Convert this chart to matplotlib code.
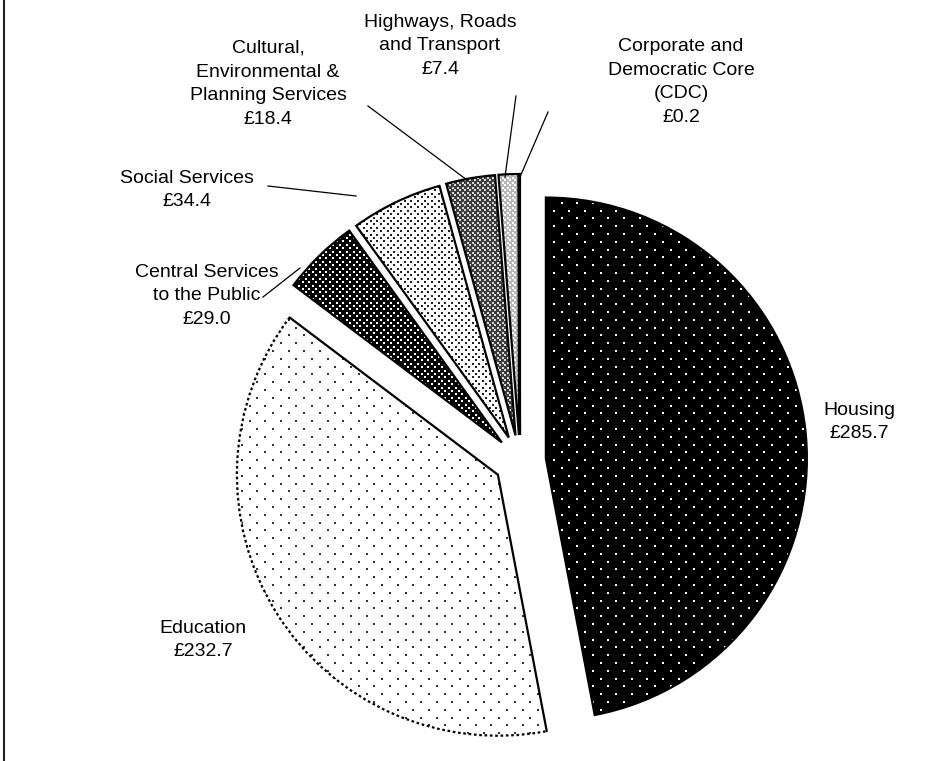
import numpy as np
import matplotlib
matplotlib.use('agg')
import matplotlib.pyplot as plt
from matplotlib.patches import Wedge, Arc

plt.rcParams['font.family'] = ['Liberation Sans', 'DejaVu Sans']

# spend by service, £m
services = ['Housing', 'Education', 'Central Services\nto the Public', 'Social Services',
            'Cultural,\nEnvironmental &\nPlanning Services', 'Highways, Roads\nand Transport',
            'Corporate and\nDemocratic Core\n(CDC)']
spend = [285.7, 232.7, 29.0, 34.4, 18.4, 7.4, 0.2]

W, H = 942, 761


def px(x, y):
    # image-style pixel coordinates -> axes data coordinates
    return x, H - y


# (face colour, dot colour, dot step, dot size, dotted rim)
fills = [
    ('black', 'white', 15.6, 2.6, False),
    ('white', '#333333', 15.6, 2.4, True),
    ('black', 'white', 6.8, 2.8, False),
    ('white', '#222222', 6.8, 2.8, False),
    ('#3c3c3c', '#d8d8d8', 5.0, 2.0, False),
    ('#b8b8b8', 'white', 5.0, 2.0, False),
    ('#b8b8b8', 'white', 5.0, 2.0, False),
]

# label centre (pixels) and leader line (label end, wedge end)
label_pos = [(859, 422), (203, 640), (207, 296), (187, 190), (268, 84), (440, 46), (681, 82)]
leaders = [None, None,
           ((263, 297), (300, 268)),
           ((268, 186), (356, 196)),
           ((368, 106), (467, 180)),
           ((516, 96), (505, 177)),
           ((548, 112), (520, 177))]


def dot_grid(step):
    pts = []
    for i, y in enumerate(np.arange(0, H + step, step / 2)):
        off = step / 2 if i % 2 else 0
        for x in np.arange(off, W + step, step):
            pts.append((x, y))
    return np.array(pts)


fig = plt.figure(figsize=(W / 100, H / 100), dpi=100)
ax = fig.add_axes([0, 0, 1, 1])

# explode is in data units here (pixels), not a fraction of the radius
wedges, _ = ax.pie(spend, startangle=90, counterclock=False,
                   center=px(520, 461), radius=261, explode=[26] * len(spend),
                   wedgeprops=dict(linewidth=0))
ax.set_xlim(0, W)
ax.set_ylim(0, H)
ax.set_aspect('equal')
ax.axis('off')

for w, (face, dot, step, size, dotted) in zip(wedges, fills):
    w.set_facecolor(face)
    w.set_zorder(1)
    g = dot_grid(step)
    sc = ax.scatter(g[:, 0], H - g[:, 1], s=size, marker='s', c=dot,
                    linewidths=0, zorder=2)
    sc.set_clip_path(w)
    if not dotted:
        ax.add_patch(Wedge(w.center, w.r, w.theta1, w.theta2, fill=False,
                           ec='black', lw=1.6, zorder=3))
        continue
    # solid radial edges, dotted rim
    cx, cy = w.center
    for t in (w.theta1, w.theta2):
        a = np.deg2rad(t)
        ax.plot([cx, cx + w.r * np.cos(a)], [cy, cy + w.r * np.sin(a)],
                color='black', lw=1.6, zorder=3, solid_capstyle='round')
    ax.add_patch(Arc(w.center, 2 * w.r, 2 * w.r, theta1=w.theta1, theta2=w.theta2,
                     ec='black', lw=1.6, ls=(0, (1.2, 1.2)), zorder=3))

for name, val, pos, ld in zip(services, spend, label_pos, leaders):
    ax.text(*px(*pos), f'{name}\n£{val:.1f}', ha='center', va='center',
            fontsize=14, linespacing=1.52, color='black')
    if ld:
        (x0, y0), (x1, y1) = ld
        ax.plot([x0, x1], [H - y0, H - y1], color='black', lw=0.9, zorder=4)

# frame line down the left edge
fig.add_artist(plt.Line2D([3.5 / W, 3.5 / W], [0, 1], color='#222222', lw=1.5))

fig.savefig('out.png', dpi=100)
